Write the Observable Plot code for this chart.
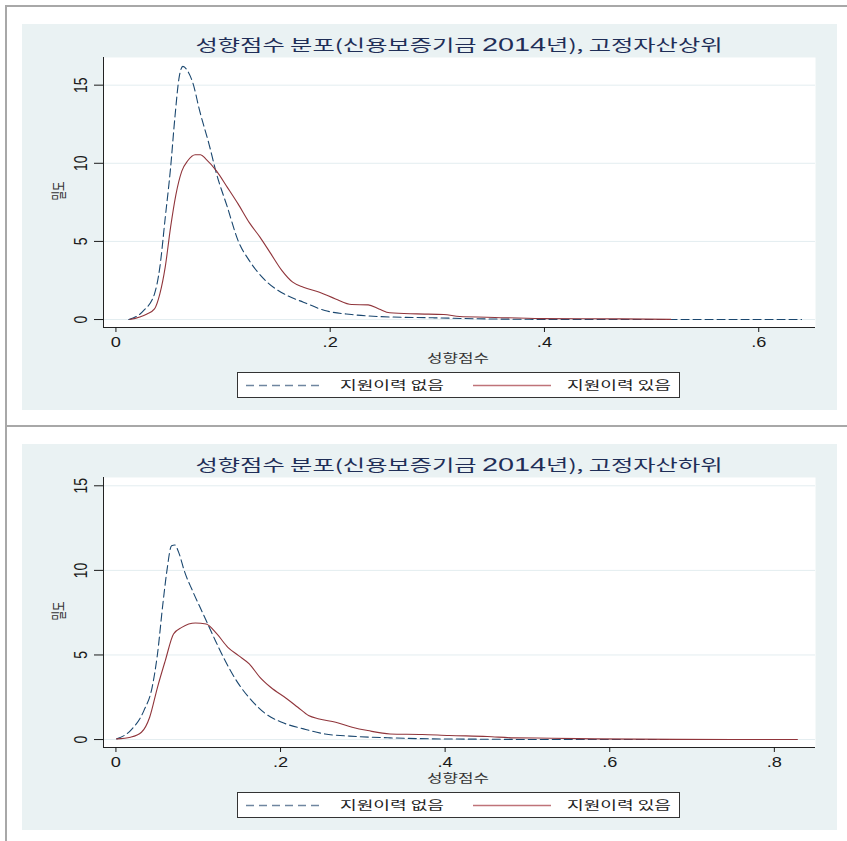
<!DOCTYPE html>
<html><head><meta charset="utf-8">
<script src="https://cdn.jsdelivr.net/npm/d3@7"></script>
<script src="https://cdn.jsdelivr.net/npm/@observablehq/plot@0.6"></script>
<style>
body{margin:0;background:#fff;width:847px;height:841px;overflow:hidden;position:relative;font-family:"Noto Sans CJK KR","Liberation Sans",sans-serif;}
.frame{position:absolute;left:5px;width:842px;border-top:2px solid #a8a8a8;border-left:2px solid #a8a8a8;box-sizing:border-box;}
.panel{position:absolute;left:22px;width:815px;height:386px;background:#eaf2f3;}
.txt{position:absolute;white-space:nowrap;transform-origin:center center;line-height:1;}
.legend{position:absolute;left:237px;width:443px;height:26px;background:#fff;border:1px solid #333;box-sizing:border-box;}
</style></head><body>
<script>
// ---------- data ----------
const titles = ["성향점수 분포(신용보증기금 2014년), 고정자산상위", "성향점수 분포(신용보증기금 2014년), 고정자산하위"];
const xTitle = "성향점수";
const yTitle = "밀도";
const legendLabels = ["지원이력 없음", "지원이력 있음"];
const yTicks = [0, 5, 10, 15];
const xTicksTop = [0, 0.2, 0.4, 0.6];
const xTicksBot = [0, 0.2, 0.4, 0.6, 0.8];

// top panel: 고정자산상위
const topNoneX = [0.012,0.026,0.036,0.041,0.046,0.051,0.055,0.059,0.0625,0.067,0.072,0.078,0.087,0.094,0.104,0.114,0.1245,0.1397,0.160,0.175,0.195,0.220,0.2455,0.296,0.346,0.397,0.45,0.55,0.64];
const topNoneY = [0,0.58,1.64,3.35,6.5,9.7,12.9,15.5,16.2,15.9,15.1,13.4,11.2,9.3,7.2,5.05,3.77,2.49,1.53,1.11,0.58,0.32,0.19,0.11,0.04,0.01,0,0,0];
const topHasX = [0.013,0.029,0.036,0.041,0.046,0.051,0.056,0.0615,0.067,0.074,0.079,0.084,0.094,0.104,0.114,0.1245,0.1346,0.1447,0.155,0.165,0.175,0.190,0.205,0.220,0.2355,0.2455,0.2556,0.281,0.306,0.321,0.346,0.397,0.472,0.518];
const topHasY = [0,0.36,0.68,1.64,3.35,5.9,8.0,9.5,10.16,10.55,10.55,10.27,9.5,8.46,7.4,6.2,5.26,4.2,3.13,2.39,2.07,1.75,1.32,0.96,0.94,0.68,0.43,0.36,0.32,0.19,0.15,0.06,0.04,0.01];

// bottom panel: 고정자산하위
const botNoneX = [0.001,0.0177,0.034,0.044,0.0505,0.057,0.062,0.0676,0.0715,0.077,0.083,0.093,0.106,0.119,0.1326,0.149,0.165,0.182,0.2015,0.228,0.254,0.293,0.333,0.385,0.45,0.516,0.6,0.68];
const botNoneY = [0.04,0.53,1.71,3.09,5.06,8.0,10.0,11.46,11.5,10.96,9.98,8.8,7.42,6.04,4.67,3.29,2.30,1.52,1.02,0.63,0.33,0.18,0.10,0.04,0.02,0,0,0];
const botHasX = [0.001,0.0177,0.031,0.041,0.0505,0.060,0.070,0.080,0.0965,0.1096,0.1227,0.136,0.149,0.162,0.175,0.188,0.208,0.221,0.234,0.247,0.267,0.287,0.306,0.333,0.372,0.405,0.451,0.484,0.53,0.582,0.68,0.828];
const botHasY = [0.04,0.14,0.43,1.32,3.09,4.67,6.24,6.63,6.89,6.83,6.24,5.45,4.96,4.47,3.68,3.09,2.40,1.91,1.42,1.22,1.02,0.73,0.53,0.33,0.30,0.24,0.18,0.10,0.08,0.04,0.01,0];

const NAVY = "#1a476f", MAROON = "#90353b";

function toRows(xs, ys){ return xs.map((x,i)=>({x, y: ys[i]})); }
const fmt = d => d === 0 ? "0" : d3.format(".1f")(d).replace(/^0/, "");

function addText(parent, text, cx, cy, opts){
  const el = document.createElement("div");
  el.className = "txt";
  el.style.left = cx + "px"; el.style.top = cy + "px";
  el.style.fontSize = opts.size + "px";
  el.style.color = opts.color || "#222";
  if (opts.html) el.innerHTML = text; else el.textContent = text;
  parent.appendChild(el);
  const w = el.getBoundingClientRect().width;
  const s = opts.target ? opts.target / w : 1;
  el.style.transform = opts.rotate
    ? `translate(-50%,-50%) rotate(-90deg) scale(${s},${opts.sy || 1})`
    : `translate(-50%,-50%) scaleX(${s})`;
  return el;
}

// widen tick labels (the reference's lettering is horizontally stretched)
function stretch(svg, label, sx, sy){
  svg.querySelectorAll(`g[aria-label="${label}"] text`).forEach(t => {
    const tr = t.getAttribute("transform");
    if (tr) t.setAttribute("transform", tr + ` scale(${sx},${sy})`);
  });
}

function panel(top, idx, none, has, xTicks, xDom, yDom){
  const fr = document.createElement("div");
  fr.className = "frame"; fr.style.top = (top + 5) + "px"; fr.style.height = (841 - top - 5) + "px";
  document.body.appendChild(fr);
  const p = document.createElement("div");
  p.className = "panel"; p.style.top = (top + 24) + "px";
  document.body.appendChild(p);

  const svg = Plot.plot({
    width: 815, height: 386,
    marginLeft: 81, marginRight: 22, marginTop: 33, marginBottom: 83,
    x: {domain: xDom},
    y: {domain: yDom},
    style: {background: "transparent", fontFamily: "'Liberation Sans', Arial, sans-serif", fontSize: "14px", overflow: "visible"},
    marks: [
      Plot.frame({fill: "#ffffff", stroke: null}),
      Plot.gridY(yTicks, {stroke: "#e3edf0", strokeOpacity: 1, strokeWidth: 1}),
      Plot.line(none, {x: "x", y: "y", stroke: NAVY, strokeWidth: 1.1, strokeDasharray: "8,4", curve: "monotone-x"}),
      Plot.line(has, {x: "x", y: "y", stroke: MAROON, strokeWidth: 1.1, curve: "monotone-x"}),
      Plot.ruleX([xDom[0]], {y1: yDom[0], y2: yDom[1], stroke: "#222"}),
      Plot.ruleY([yDom[0]], {x1: xDom[0], x2: xDom[1], stroke: "#222"}),
      Plot.axisY(yTicks, {tickSize: 9, tickPadding: 8, tickRotate: -90, label: null, color: "#1a1a1a", fontSize: 14}),
      Plot.axisX(xTicks, {tickSize: 5, tickPadding: 5, tickFormat: fmt, label: null, color: "#1a1a1a", fontSize: 14})
    ]
  });
  svg.style.position = "absolute"; svg.style.left = "0px"; svg.style.top = "0px";
  p.appendChild(svg);
  stretch(svg, "x-axis tick label", 1.3, 1);
  stretch(svg, "y-axis tick label", 1, 1.35);

  // title
  addText(document.body,
    titles[idx].replace("2014", '<span style="font-family:\'Liberation Sans\',Arial;font-size:19px;">2014</span>'),
    459, top + 44, {size: 16, color: "#1f2e57", target: 527, html: true});
  // axis titles
  addText(document.body, xTitle, 458, top + 358, {size: 12, color: "#333", target: 62});
  addText(document.body, yTitle, 58, top + 191, {size: 11, color: "#333", rotate: true, target: 19, sy: 1.35});

  // legend
  const lg = document.createElement("div");
  lg.className = "legend"; lg.style.top = (top + 372) + "px";
  lg.innerHTML = `<svg width="441" height="24" style="position:absolute;left:0;top:0">
    <line x1="8" x2="86" y1="12.5" y2="12.5" stroke="#6f86a0" stroke-width="1.3" stroke-dasharray="8,5"/>
    <line x1="235" x2="313" y1="12.5" y2="12.5" stroke="#bf7379" stroke-width="1.3"/></svg>`;
  document.body.appendChild(lg);
  addText(document.body, legendLabels[0], 392, top + 384.5, {size: 12, color: "#222", target: 104});
  addText(document.body, legendLabels[1], 618.5, top + 384.5, {size: 12, color: "#222", target: 104});
}

panel(0, 0, toRows(topNoneX, topNoneY), toRows(topHasX, topHasY), xTicksTop, [-0.0116, 0.653], [-0.51, 16.77]);
panel(420, 1, toRows(botNoneX, botNoneY), toRows(botHasX, botHasY), xTicksBot, [-0.0151, 0.850], [-0.47, 15.49]);
</script>
</body></html>
